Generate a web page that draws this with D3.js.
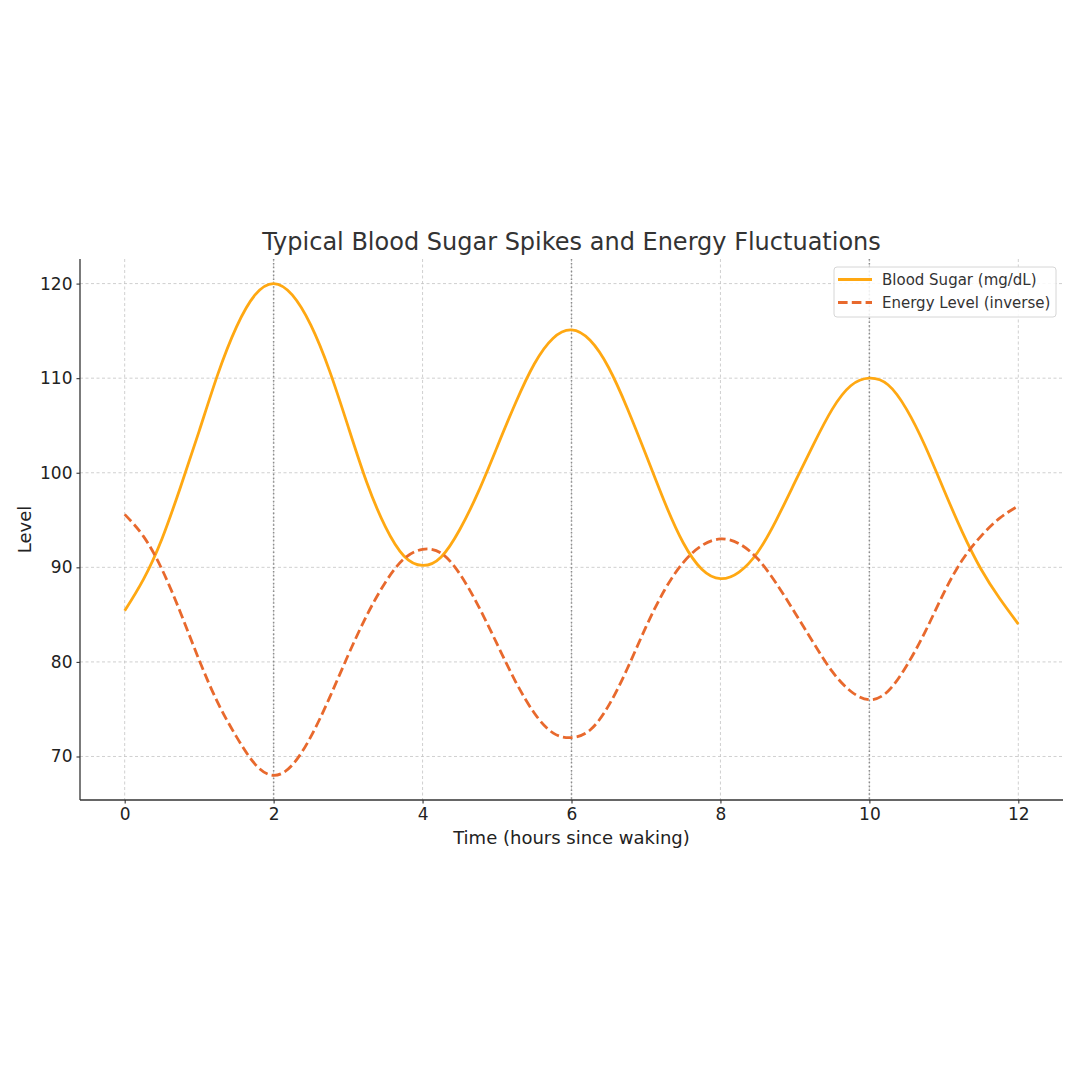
<!DOCTYPE html>
<html>
<head>
<meta charset="utf-8">
<script src="https://cdn.jsdelivr.net/npm/d3@7"></script>
<style>
  html, body { margin: 0; padding: 0; background: #ffffff; }
  svg { display: block; font-family: "DejaVu Sans", sans-serif; }
</style>
</head>
<body>
<svg id="chart"></svg>
<script>
// hours since waking, sampled every quarter hour
const hours = [0, 0.25, 0.5, 0.75, 1, 1.25, 1.5, 1.75, 2, 2.25, 2.5, 2.75, 3, 3.25, 3.5, 3.75,
    4, 4.25, 4.5, 4.75, 5, 5.25, 5.5, 5.75, 6, 6.25, 6.5, 6.75, 7, 7.25, 7.5, 7.75,
    8, 8.25, 8.5, 8.75, 9, 9.25, 9.5, 9.75, 10, 10.25, 10.5, 10.75, 11, 11.25, 11.5, 11.75, 12];

const bloodSugar = [85.4, 88.7, 93.0, 98.5, 104.4, 110.4, 115.4, 118.8, 120.0, 118.8, 115.6, 110.8,
    104.9, 99.0, 94.3, 91.2, 90.2, 91.1, 94.0, 98.0, 102.7, 107.4, 111.5, 114.2,
    115.1, 114.0, 111.1, 106.8, 101.9, 96.9, 92.6, 89.8, 88.8, 89.5, 91.6, 95.0,
    99.0, 103.0, 106.7, 109.2, 110.0, 109.3, 106.7, 102.8, 98.2, 93.7, 89.8, 86.7, 84.0];

const energyLevel = [95.6, 93.3, 89.8, 85.2, 80.2, 75.7, 72.1, 69.2, 68.0, 69.1, 72.1, 76.2,
    80.7, 84.9, 88.4, 90.9, 91.9, 91.5, 89.3, 85.9, 81.9, 77.9, 74.6, 72.5,
    72.0, 72.8, 75.4, 79.3, 83.7, 87.6, 90.5, 92.3, 93.0, 92.5, 90.9, 88.3,
    85.2, 82.0, 79.0, 76.9, 76.0, 76.9, 79.6, 83.2, 87.3, 90.8, 93.3, 95.2, 96.5];

const xTicks = [0, 2, 4, 6, 8, 10, 12];
const yTicks = [70, 80, 90, 100, 110, 120];
const mealHours = [2, 6, 10];

const seriesNames = ["Blood Sugar (mg/dL)", "Energy Level (inverse)"];

const width = 1080;
const height = 1080;
const margin = { top: 259, right: 17, bottom: 280, left: 80 };

const svg = d3.select("#chart")
    .attr("width", width)
    .attr("height", height);

const x = d3.scaleLinear()
    .domain([-0.6, 12.6])
    .range([margin.left, width - margin.right]);

const y = d3.scaleLinear()
    .domain([65.4, 122.6])
    .range([height - margin.bottom, margin.top]);

const plotTop = margin.top;
const plotBottom = height - margin.bottom;
const plotLeft = margin.left;
const plotRight = width - margin.right;

// grid
const grid = svg.append("g");
grid.selectAll(".vgrid")
    .data(xTicks)
    .join("line")
    .attr("x1", d => x(d)).attr("x2", d => x(d))
    .attr("y1", plotTop).attr("y2", plotBottom)
    .attr("stroke", "#c4c4c4")
    .attr("stroke-width", 0.8)
    .attr("stroke-dasharray", "3,2.5");

grid.selectAll(".hgrid")
    .data(yTicks)
    .join("line")
    .attr("x1", plotLeft).attr("x2", plotRight)
    .attr("y1", d => y(d)).attr("y2", d => y(d))
    .attr("stroke", "#c4c4c4")
    .attr("stroke-width", 0.8)
    .attr("stroke-dasharray", "3,2.5");

// meal markers
svg.append("g").selectAll("line")
    .data(mealHours)
    .join("line")
    .attr("x1", d => x(d)).attr("x2", d => x(d))
    .attr("y1", plotTop).attr("y2", plotBottom)
    .attr("stroke", "#8c8c8c")
    .attr("stroke-width", 1.5)
    .attr("stroke-dasharray", "1.5,2.4");

// lines
const sugarPoints = hours.map((h, i) => [h, bloodSugar[i]]);
const energyPoints = hours.map((h, i) => [h, energyLevel[i]]);

const line = d3.line()
    .x(d => x(d[0]))
    .y(d => y(d[1]))
    .curve(d3.curveNatural);

svg.append("path")
    .datum(sugarPoints)
    .attr("d", line)
    .attr("fill", "none")
    .attr("stroke", "#ffa812")
    .attr("stroke-width", 2.8)
    .attr("stroke-linejoin", "round");

svg.append("path")
    .datum(energyPoints)
    .attr("d", line)
    .attr("fill", "none")
    .attr("stroke", "#e8692d")
    .attr("stroke-width", 2.8)
    .attr("stroke-dasharray", "9.6,4.2");

// axes
const xAxis = svg.append("g")
    .attr("transform", `translate(0,${plotBottom})`)
    .call(d3.axisBottom(x).tickValues(xTicks).tickSize(3.5).tickPadding(4).tickFormat(d3.format("d")));

const yAxis = svg.append("g")
    .attr("transform", `translate(${plotLeft},0)`)
    .call(d3.axisLeft(y).tickValues(yTicks).tickSize(3.5).tickPadding(4).tickFormat(d3.format("d")));

[xAxis, yAxis].forEach(a => {
    a.select(".domain").attr("stroke", "#333").attr("stroke-width", 1.3);
    a.selectAll(".tick line").attr("stroke", "#333").attr("stroke-width", 1.1);
    a.selectAll(".tick text")
        .attr("fill", "#222")
        .style("font-size", "17px")
        .style("font-family", "DejaVu Sans, sans-serif");
});

// keep only the spines, no end caps
xAxis.select(".domain").attr("d", `M${plotLeft},0H${plotRight}`);
yAxis.select(".domain").attr("d", `M0,${plotTop}V${plotBottom}`);

// title and labels
svg.append("text")
    .attr("x", (plotLeft + plotRight) / 2)
    .attr("y", 250)
    .attr("text-anchor", "middle")
    .attr("fill", "#333")
    .style("font-size", "24px")
    .text("Typical Blood Sugar Spikes and Energy Fluctuations");

svg.append("text")
    .attr("x", (plotLeft + plotRight) / 2)
    .attr("y", 844)
    .attr("text-anchor", "middle")
    .attr("fill", "#222")
    .style("font-size", "18px")
    .text("Time (hours since waking)");

svg.append("text")
    .attr("transform", `translate(31,${(plotTop + plotBottom) / 2}) rotate(-90)`)
    .attr("text-anchor", "middle")
    .attr("fill", "#222")
    .style("font-size", "18px")
    .text("Level");

// legend
const legend = svg.append("g").attr("transform", "translate(834,267)");
legend.append("rect")
    .attr("width", 222)
    .attr("height", 50)
    .attr("rx", 3)
    .attr("fill", "#ffffff")
    .attr("fill-opacity", 0.85)
    .attr("stroke", "#d6d6d6")
    .attr("stroke-width", 1);

const legendStyles = [
    { color: "#ffa812", dash: null },
    { color: "#e8692d", dash: "9.6,4.2" }
];

seriesNames.forEach((name, i) => {
    const row = legend.append("g").attr("transform", `translate(0,${12.5 + i * 23})`);
    row.append("line")
        .attr("x1", 4).attr("x2", 38)
        .attr("y1", 0).attr("y2", 0)
        .attr("stroke", legendStyles[i].color)
        .attr("stroke-width", 2.8)
        .attr("stroke-dasharray", legendStyles[i].dash);
    row.append("text")
        .attr("x", 48)
        .attr("y", 0)
        .attr("dy", "0.36em")
        .attr("fill", "#333")
        .style("font-size", "15px")
        .text(name);
});
</script>
</body>
</html>
